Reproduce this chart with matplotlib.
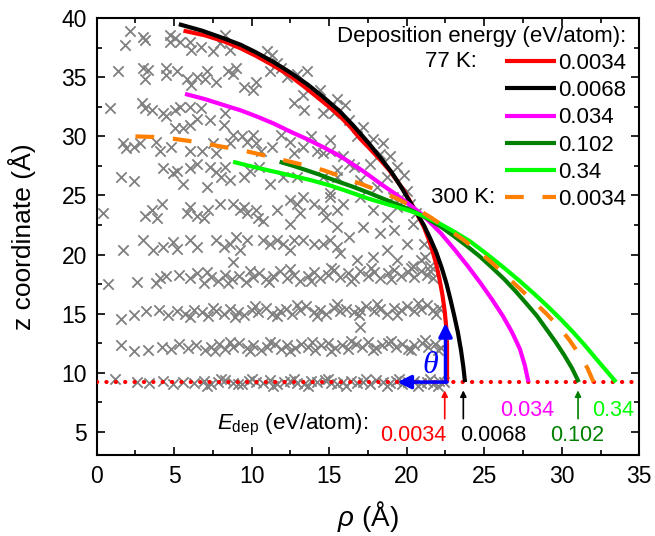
import numpy as np
import matplotlib.pyplot as plt

plt.rcParams['font.family'] = ['Liberation Sans', 'DejaVu Sans']
plt.rcParams['mathtext.fontset'] = 'custom'
plt.rcParams['mathtext.rm'] = 'Liberation Sans'
plt.rcParams['mathtext.it'] = 'Liberation Sans:italic'

# substrate level
z_substrate = 9.2

# atom positions (rho, z), layer by layer
layer_09 = [(1.2, 9.5), (2.6, 9.2), (3.4, 9.1), (4.3, 9.3), (4.9, 9.0), (5.6, 9.2), (6.3, 9.1),
            (6.9, 9.3), (7.4, 9.0), (7.8, 9.2), (8.3, 9.4), (8.8, 9.1), (9.4, 9.0), (9.8, 9.3),
            (10.3, 9.2), (10.7, 9.1), (11.2, 9.4), (11.6, 9.0), (12.1, 9.2), (12.5, 9.3), (12.9, 9.1),
            (13.4, 9.0), (13.8, 9.3), (14.2, 9.2), (14.7, 9.4), (15.1, 9.1), (15.5, 9.0), (15.9, 9.2),
            (16.4, 9.3), (16.8, 9.1), (17.2, 9.2), (17.6, 9.0), (18.0, 9.4), (18.5, 9.2), (18.9, 9.1),
            (19.3, 9.3), (19.7, 9.0), (20.1, 9.2), (20.5, 9.3), (20.9, 9.1), (21.3, 9.2), (21.7, 9.0),
            (22.1, 9.3), (22.4, 9.2), (7.1, 8.9), (8.0, 9.5), (9.1, 9.0), (10.0, 9.5), (11.4, 8.9),
            (12.7, 9.5), (13.6, 8.9), (14.9, 9.5), (16.1, 8.9), (17.4, 9.5), (18.7, 8.9), (19.5, 9.5),
            (20.7, 8.9), (21.5, 9.5), (22.0, 8.9)]

layer_12 = [(1.6, 12.3), (2.4, 11.8), (3.3, 11.9), (4.2, 12.2), (4.8, 12.0), (5.3, 12.4), (5.9, 12.1),
            (6.4, 12.3), (7.0, 11.9), (7.4, 12.2), (7.9, 12.4), (8.3, 12.0), (8.8, 12.2), (9.2, 12.5),
            (9.7, 12.1), (10.1, 12.3), (10.6, 11.9), (11.0, 12.2), (11.5, 12.4), (11.9, 12.0), (12.3, 12.3),
            (12.8, 12.1), (13.2, 12.4), (13.6, 12.2), (14.1, 11.9), (14.5, 12.3), (14.9, 12.5), (15.4, 12.1),
            (15.8, 12.3), (16.2, 12.0), (16.7, 12.4), (17.1, 12.2), (17.5, 12.6), (18.0, 12.1), (18.4, 12.3),
            (18.8, 12.5), (19.3, 12.2), (19.7, 12.4), (20.1, 12.0), (20.5, 12.3), (21.0, 12.5), (21.4, 12.2),
            (21.8, 12.4), (22.2, 12.1), (7.6, 11.8), (8.6, 12.6), (9.9, 11.8), (11.2, 12.6), (12.5, 11.8),
            (13.9, 12.6), (15.1, 11.8), (16.4, 12.7), (17.8, 11.9), (19.0, 12.7), (20.3, 11.9),
            (21.2, 12.8), (22.0, 11.9)]

layer_15 = [(1.6, 14.5), (2.4, 14.9), (3.2, 15.2), (4.0, 15.3), (4.6, 14.9), (5.2, 15.2), (5.7, 15.0),
            (6.3, 15.3), (6.8, 15.1), (7.2, 14.8), (7.7, 15.2), (8.2, 15.0), (8.6, 15.4), (9.1, 15.1),
            (9.5, 14.9), (10.0, 15.3), (10.4, 15.1), (10.9, 15.5), (11.3, 15.0), (11.8, 15.2), (12.2, 15.4),
            (12.6, 15.0), (13.1, 15.3), (13.5, 15.6), (14.0, 15.1), (14.4, 15.3), (14.8, 15.0), (15.3, 15.5),
            (15.7, 15.2), (16.1, 15.4), (16.6, 15.1), (17.0, 13.9), (17.0, 15.3), (17.4, 15.6), (17.9, 15.2),
            (18.3, 15.4), (18.7, 15.0), (19.2, 15.5), (19.6, 15.3), (20.0, 15.6), (20.5, 15.2), (20.9, 15.4),
            (21.3, 15.7), (21.7, 15.3), (22.1, 15.5), (6.0, 14.7), (7.5, 15.5), (8.9, 14.7), (10.2, 15.6),
            (11.6, 14.8), (12.9, 15.7), (14.2, 14.8), (15.5, 15.8), (16.9, 14.9), (18.1, 15.8),
            (19.4, 14.9), (20.7, 15.9), (21.9, 15.0)]

layer_18 = [(0.7, 17.5), (2.6, 17.7), (3.8, 17.6), (4.1, 18.0), (4.5, 18.2), (5.3, 18.3), (6.0, 18.0),
            (6.5, 18.4), (6.9, 17.6), (7.4, 18.1), (7.8, 17.8), (8.3, 18.3), (8.7, 17.9), (8.8, 19.4),
            (9.2, 18.2), (9.6, 17.7), (10.1, 18.1), (10.5, 18.4), (10.9, 17.9), (11.4, 18.2), (11.8, 18.6),
            (12.3, 18.0), (12.7, 18.3), (13.1, 17.8), (13.6, 18.2), (14.0, 18.5), (14.4, 18.0), (14.9, 18.3),
            (15.3, 18.7), (15.7, 18.1), (16.2, 18.4), (16.6, 18.0), (17.0, 18.6), (17.5, 18.2), (17.9, 18.5),
            (18.3, 18.0), (18.8, 18.4), (19.2, 18.7), (19.6, 18.2), (20.1, 18.5), (20.5, 18.1), (20.9, 18.6),
            (21.3, 18.3), (21.7, 18.0), (7.1, 18.5), (8.5, 17.6), (9.9, 18.6), (11.1, 17.7), (12.5, 18.8),
            (13.8, 17.8), (15.1, 18.9), (16.4, 17.8), (17.7, 18.9), (19.0, 17.9), (20.3, 18.9),
            (21.5, 18.6)]

upper_pts = [(2.15, 38.9), (1.8, 37.7), (3.0, 38.4), (3.1, 38.2), (4.7, 38.6), (4.7, 38.0), (5.05, 38.3),
             (5.4, 38.0), (6.0, 38.0), (6.1, 37.3), (6.7, 37.6), (8.3, 38.6), (7.95, 37.9), (7.5, 37.2),
             (8.6, 37.3), (1.4, 35.5), (3.1, 34.9), (3.0, 35.8), (3.3, 35.6), (4.5, 35.8), (4.5, 35.2),
             (5.2, 35.5), (5.8, 34.9), (6.1, 34.35), (6.45, 35.05), (7.0, 34.9), (7.1, 35.5), (7.7, 34.6),
             (8.5, 35.5), (8.8, 35.3), (9.0, 35.8), (9.5, 34.2), (10.1, 33.9), (10.3, 34.6), (11.0, 37.2),
             (11.3, 36.9), (11.6, 36.2), (11.2, 35.5), (11.9, 35.8), (12.25, 35.05), (12.9, 35.3),
             (13.55, 35.5), (14.4, 33.9), (13.3, 33.5), (12.7, 32.8), (13.4, 32.2), (14.6, 31.95),
             (15.05, 32.5), (0.86, 32.4), (2.9, 32.8), (3.1, 32.4), (3.55, 32.2), (4.3, 31.95), (4.5, 31.7),
             (5.05, 32.2), (5.4, 32.5), (6.0, 32.5), (6.7, 32.4), (6.45, 31.5), (7.3, 31.4), (8.3, 31.95),
             (8.2, 30.95), (8.8, 30.1), (5.05, 30.7), (5.6, 30.7), (6.0, 30.95), (4.8, 29.1), (6.0, 28.8),
             (6.8, 28.8), (1.7, 29.4), (2.4, 29.1), (2.8, 29.4), (1.9, 29.0), (3.8, 29.55), (4.1, 28.8),
             (7.5, 29.4), (7.7, 28.6), (8.6, 29.4), (9.35, 30.0), (9.7, 29.55), (10.1, 30.1), (10.3, 29.4),
             (10.6, 28.8), (11.3, 29.1), (11.9, 30.1), (12.5, 29.55), (12.7, 28.6), (13.3, 29.1),
             (13.8, 30.0), (14.2, 28.8), (14.6, 28.6), (15.05, 29.7), (1.6, 26.6), (2.4, 26.2), (4.3, 27.3),
             (4.95, 26.9), (5.2, 27.1), (6.0, 27.3), (5.6, 26.0), (6.45, 27.7), (7.3, 27.4), (7.1, 25.7),
             (7.7, 27.0), (8.05, 26.6), (8.3, 27.4), (8.6, 26.3), (9.5, 26.6), (9.9, 27.1), (10.5, 27.4),
             (11.2, 26.0), (12.0, 26.6), (12.9, 26.6), (14.6, 26.6), (0.43, 23.5), (3.1, 23.3), (3.55, 23.75),
             (3.9, 23.05), (4.2, 24.3), (5.8, 23.5), (6.0, 24.0), (6.45, 23.3), (6.9, 23.05), (7.2, 23.75),
             (7.95, 24.3), (8.8, 24.3), (9.25, 23.75), (9.5, 24.0), (9.7, 23.5), (10.3, 23.75), (10.4, 23.05),
             (10.75, 22.8), (11.6, 23.75), (12.5, 24.6), (12.9, 24.3), (13.1, 23.5), (13.3, 24.9),
             (12.5, 22.6), (14.0, 24.3), (14.6, 23.75), (14.8, 23.2), (15.05, 24.9), (15.5, 23.75),
             (1.7, 20.35), (3.0, 21.2), (3.65, 20.35), (4.3, 20.65), (4.95, 21.1), (5.2, 20.5), (6.0, 21.2),
             (6.45, 20.65), (7.7, 21.2), (8.2, 20.65), (8.6, 20.9), (9.0, 21.5), (9.25, 20.35), (9.7, 21.2),
             (10.75, 21.2), (11.2, 20.9), (11.6, 21.2), (12.0, 20.9), (12.5, 20.35), (12.7, 21.2),
             (13.3, 21.2), (14.0, 20.9), (14.6, 20.9), (15.05, 21.2), (15.5, 20.65)]

edge_pts = [(15.5, 33.2), (16.0, 32.65), (15.3, 31.95), (16.3, 31.4), (17.2, 30.8), (16.8, 30.0),
            (17.8, 29.8), (18.5, 29.4), (18.3, 28.55), (18.9, 28.3), (17.6, 27.7), (19.35, 27.4),
            (19.8, 26.7), (18.7, 26.6), (20.0, 25.4), (15.05, 28.8), (15.9, 28.3), (16.6, 27.4),
            (15.5, 26.6), (17.0, 26.3), (18.1, 25.7), (19.1, 24.9), (20.2, 24.3), (15.5, 27.15),
            (16.3, 27.7), (15.05, 25.2), (15.9, 24.3), (17.0, 24.9), (17.85, 23.75), (18.7, 23.2),
            (19.35, 24.05), (15.5, 22.35), (16.3, 21.5), (17.2, 22.35), (18.3, 21.8), (19.15, 22.05),
            (20.0, 20.9), (20.4, 22.6), (15.7, 20.1), (16.8, 19.5), (17.85, 19.8), (18.7, 20.4),
            (19.35, 19.5), (20.4, 19.0), (21.1, 20.9), (20.9, 19.5), (20.6, 23.5), (21.2, 19.8),
            (21.5, 19.0)]

# droplet profiles (rho, z)
prof_77_0034 = [(5.6, 38.95), (7.0, 38.55), (8.2, 38.05), (9.3, 37.45), (10.3, 36.8), (11.4, 36.0),
                (12.5, 35.1), (13.4, 34.2), (14.2, 33.35), (15.0, 32.5), (15.7, 31.7), (16.4, 30.75),
                (17.0, 29.8), (17.7, 28.85), (18.3, 28.0), (18.9, 27.1), (19.4, 26.2), (19.9, 25.25),
                (20.3, 24.3), (20.7, 23.35), (21.1, 22.35), (21.4, 21.35), (21.65, 20.35), (21.9, 19.2),
                (22.1, 18.0), (22.3, 16.6), (22.45, 15.2), (22.55, 13.8), (22.6, 12.3), (22.6, 10.7),
                (22.6, 9.2)]
prof_77_0068 = [(5.3, 39.5), (6.8, 38.95), (8.2, 38.3), (9.3, 37.75), (10.3, 37.1), (11.4, 36.3),
                (12.5, 35.4), (13.6, 34.4), (14.6, 33.35), (15.7, 32.1), (16.6, 30.85), (17.5, 29.5),
                (18.3, 28.2), (19.0, 27.0), (19.6, 25.8), (20.1, 24.7), (20.6, 23.6), (21.1, 22.5),
                (21.5, 21.4), (21.9, 20.2), (22.25, 18.9), (22.55, 17.6), (22.8, 16.3), (23.05, 14.9),
                (23.3, 13.4), (23.5, 11.9), (23.65, 10.5), (23.76, 9.2)]
prof_77_034 = [(5.7, 33.6), (7.0, 33.15), (8.2, 32.65), (9.3, 32.2), (10.3, 31.7), (11.4, 31.1),
               (12.5, 30.4), (13.6, 29.75), (14.6, 29.1), (15.4, 28.55), (16.1, 28.0), (17.2, 27.05),
               (18.3, 26.0), (19.3, 25.1), (20.2, 24.2), (20.8, 23.6), (21.3, 23.0), (22.2, 21.8),
               (23.1, 20.4), (23.95, 19.0), (24.75, 17.6), (25.5, 16.2), (26.2, 14.8), (26.8, 13.4),
               (27.3, 12.0), (27.62, 10.6), (27.85, 9.2)]
prof_77_102 = [(11.8, 27.85), (12.7, 27.5), (13.5, 27.15), (14.4, 26.75), (15.3, 26.3), (16.5, 25.75),
               (17.6, 25.2), (18.9, 24.5), (20.2, 23.8), (21.2, 23.15), (22.15, 22.4), (23.0, 21.6),
               (23.9, 20.7), (24.7, 19.85), (25.5, 18.9), (26.3, 17.9), (27.05, 16.85), (27.75, 15.8),
               (28.4, 14.8), (29.0, 13.7), (29.6, 12.6), (30.15, 11.5), (30.65, 10.4), (31.1, 9.2)]
prof_77_34 = [(8.8, 27.85), (9.7, 27.55), (10.5, 27.3), (11.5, 27.0), (12.5, 26.7), (13.8, 26.3),
              (15.05, 25.85), (16.3, 25.3), (17.6, 24.7), (18.9, 24.2), (20.2, 23.7), (21.2, 23.2),
              (22.15, 22.6), (23.1, 21.9), (24.1, 21.1), (25.2, 20.0), (26.25, 18.9), (27.25, 17.8),
              (28.2, 16.7), (29.1, 15.6), (29.95, 14.5), (30.75, 13.4), (31.5, 12.3), (32.2, 11.2),
              (32.85, 10.2), (33.5, 9.2)]
prof_300_0034 = [(2.5, 30.0), (3.7, 29.95), (4.95, 29.8), (6.6, 29.5), (8.2, 29.1), (9.3, 28.85),
                 (10.3, 28.55), (11.4, 28.2), (12.5, 27.85), (13.6, 27.5), (14.6, 27.15), (15.9, 26.55),
                 (17.2, 25.9), (18.3, 25.35), (19.35, 24.75), (20.6, 23.9), (21.6, 23.1), (22.6, 22.2),
                 (23.6, 21.3), (24.5, 20.4), (25.5, 19.3), (26.4, 18.2), (27.3, 17.1), (28.2, 16.0),
                 (29.0, 15.0), (29.8, 13.9), (30.5, 12.75), (31.1, 11.6), (31.65, 10.4), (32.05, 9.2)]

energies = ['0.0034', '0.0068', '0.034', '0.102', '0.34', '0.0034']
colors = ['#ff0000', '#000000', '#ff00ff', '#008000', '#00ff00', '#ff8000']
profiles = [prof_77_0034, prof_77_0068, prof_77_034, prof_77_102, prof_77_34, prof_300_0034]

# contact radius labels under the substrate line
contact_rho = [22.45, 23.65, 27.85, 31.05, 33.5]
label_rho = [20.4, 25.6, 27.8, 31.0, 33.3]
label_z = [4.7, 4.7, 6.8, 4.7, 6.8]

fig = plt.figure(figsize=(6.55, 5.36), dpi=100)
ax = fig.add_axes([0.1476, 0.1505, 0.8284, 0.8154])

atoms = np.array(layer_09 + layer_12 + layer_15 + layer_18 + upper_pts + edge_pts)
ax.scatter(atoms[:, 0], atoms[:, 1], marker='x', s=55, color='#808080', linewidths=1.3, zorder=1)

ax.axhline(z_substrate, color='#ff0000', lw=3, linestyle=(0, (0.05, 2.2)),
           dash_capstyle='round', zorder=3)

handles = []
for i, prof in enumerate(profiles):
    p = np.array(prof)
    if i == 5:
        ln, = ax.plot(p[:, 0], p[:, 1], color=colors[i], lw=3, dashes=(4.5, 4.5), zorder=4)
    else:
        ln, = ax.plot(p[:, 0], p[:, 1], color=colors[i], lw=3, solid_capstyle='butt',
                      solid_joinstyle='round', zorder=4)
    handles.append(ln)

leg = ax.legend(handles, energies, loc='upper right', bbox_to_anchor=(0.976, 0.983),
                frameon=False, title='Deposition energy (eV/atom):', fontsize=16,
                title_fontsize=16, handlelength=2.3, handletextpad=0.1, labelspacing=0.28,
                borderpad=0, borderaxespad=0, alignment='right')
ax.text(24.5, 36.3, '77 K:', fontsize=16, ha='right', va='center')
ax.text(25.7, 24.8, '300 K:', fontsize=16, ha='right', va='center')

# contact angle sketch
ax.annotate('', xy=(22.5, 14.2), xytext=(22.5, z_substrate),
            arrowprops=dict(arrowstyle='-|>', color='#0000ff', lw=2.5, mutation_scale=20,
                            shrinkA=0, shrinkB=0), zorder=5)
ax.annotate('', xy=(19.4, z_substrate), xytext=(22.6, z_substrate),
            arrowprops=dict(arrowstyle='-|>', color='#0000ff', lw=2.5, mutation_scale=20,
                            shrinkA=0, shrinkB=0), zorder=5)
ax.text(21.5, 10.6, 'θ', color='#0000ff', fontsize=23, fontstyle='italic',
        family='Liberation Serif', ha='center', va='center')

# arrows + labels for contact radius
arrow_idx = [0, 1, 3]
for i in arrow_idx:
    ax.annotate('', xy=(contact_rho[i], 8.5), xytext=(contact_rho[i], 6.1),
                arrowprops=dict(arrowstyle='-|>', color=colors[i], lw=1.2, mutation_scale=9,
                                shrinkA=0, shrinkB=0))
for i in range(5):
    ax.text(label_rho[i], label_z[i], energies[i], color=colors[i], fontsize=15.5,
            ha='center', va='center')
ax.text(17.5, 5.6, r'$E_{\mathrm{dep}}$ (eV/atom):', fontsize=16, ha='right', va='center')

ax.set_xlim(0, 35)
ax.set_ylim(3, 40)
ax.set_xticks(np.arange(0, 36, 5))
ax.set_xticks(np.arange(2.5, 35, 5), minor=True)
ax.set_yticks(np.arange(5, 41, 5))
ax.set_yticks(np.arange(7.5, 40, 5), minor=True)
ax.tick_params(which='both', direction='in', top=True, right=True, labelsize=16.5, width=1.2)
ax.tick_params(which='major', length=6, pad=7)
ax.tick_params(which='minor', length=3.5)
for s in ax.spines.values():
    s.set_linewidth(1.5)

ax.set_xlabel(r'$\rho$ (Å)', fontsize=20, labelpad=8)
ax.set_ylabel('z coordinate (Å)', fontsize=19, labelpad=18)

fig.savefig('out.png', dpi=100)
